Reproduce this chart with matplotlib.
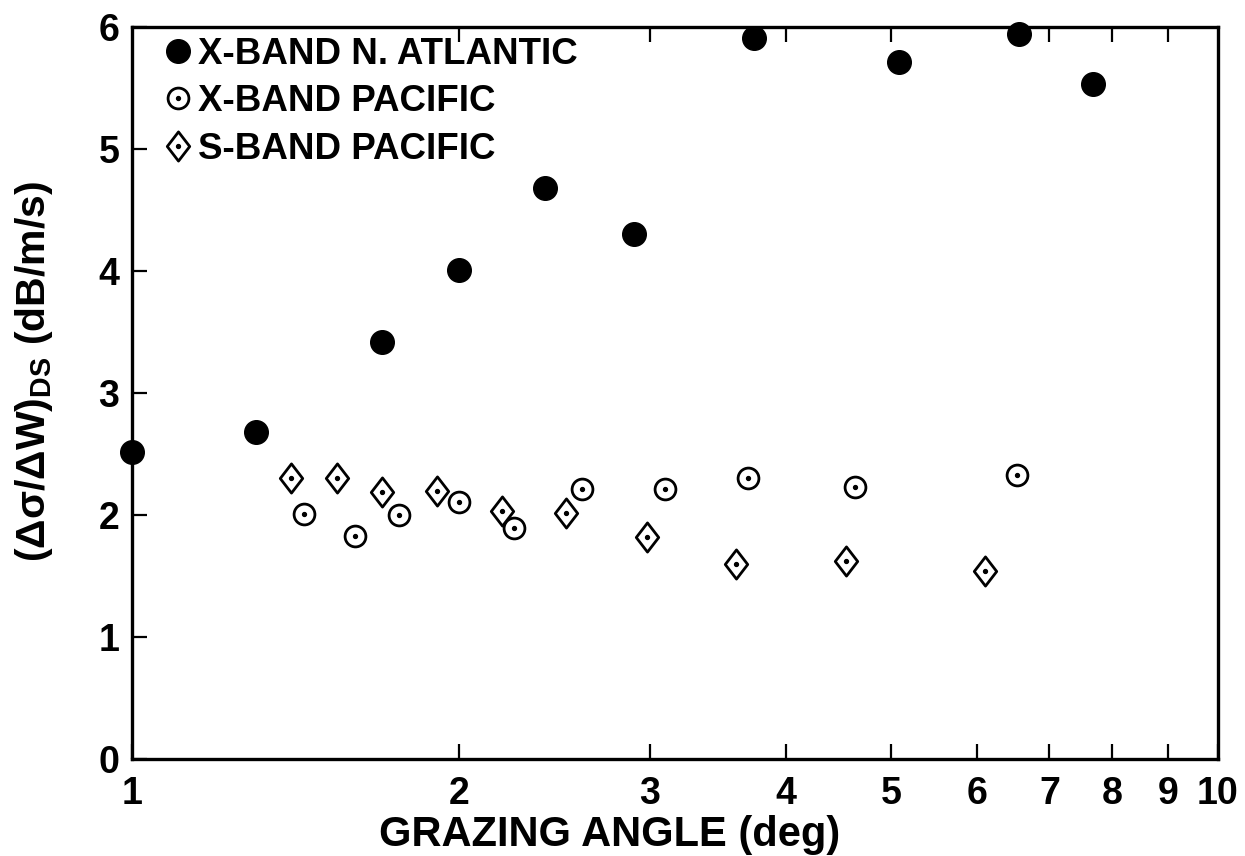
import numpy as np
import matplotlib
matplotlib.use("Agg")
import matplotlib.pyplot as plt
from matplotlib.path import Path
from matplotlib.ticker import FixedLocator, NullFormatter, NullLocator
from matplotlib.legend_handler import HandlerTuple

plt.rcParams['font.family'] = ['Liberation Sans', 'DejaVu Sans']
plt.rcParams['font.weight'] = 'bold'
plt.rcParams['axes.labelweight'] = 'bold'
plt.rcParams['mathtext.fontset'] = 'custom'
plt.rcParams['mathtext.rm'] = 'Liberation Sans:bold'
plt.rcParams['mathtext.it'] = 'Liberation Sans:italic:bold'

# X-band, N. Atlantic (filled circles)
xa_angle = [1.00, 1.30, 1.70, 2.00, 2.40, 2.90, 3.74, 5.09, 6.56, 7.67]
xa_val = [2.52, 2.68, 3.42, 4.01, 4.68, 4.30, 5.91, 5.71, 5.94, 5.53]

# X-band, Pacific (dotted open circles)
xp_angle = [1.44, 1.605, 1.76, 2.00, 2.25, 2.60, 3.10, 3.69, 4.63, 6.53]
xp_val = [2.01, 1.83, 2.00, 2.11, 1.89, 2.21, 2.21, 2.30, 2.23, 2.33]

# S-band, Pacific (dotted diamonds)
sp_angle = [1.40, 1.545, 1.70, 1.91, 2.19, 2.51, 2.98, 3.60, 4.55, 6.11]
sp_val = [2.30, 2.30, 2.19, 2.20, 2.03, 2.02, 1.82, 1.60, 1.62, 1.54]

series_labels = ['X-BAND N. ATLANTIC', 'X-BAND PACIFIC', 'S-BAND PACIFIC']
x_ticks = [1, 2, 3, 4, 5, 6, 7, 8, 9, 10]
y_ticks = [0, 1, 2, 3, 4, 5, 6]

# a diamond a bit wider than matplotlib's thin one
diamond = Path([(0, 1), (0.77, 0), (0, -1), (-0.77, 0), (0, 1)],
               [Path.MOVETO, Path.LINETO, Path.LINETO, Path.LINETO, Path.CLOSEPOLY])

fig = plt.figure(figsize=(12.45, 8.56), dpi=100)
ax = fig.add_axes([0.106, 0.1133, 0.872, 0.8552])

filled, = ax.plot(xa_angle, xa_val, ls='none', marker='o', ms=17, color='black',
                  clip_on=False, zorder=4)
ring, = ax.plot(xp_angle, xp_val, ls='none', marker='o', ms=15, mfc='white',
                mec='black', mew=2.0, clip_on=False, zorder=3)
ring_dot, = ax.plot(xp_angle, xp_val, ls='none', marker='o', ms=2.8, color='black', zorder=3.5)
diam, = ax.plot(sp_angle, sp_val, ls='none', marker=diamond, ms=21, mfc='white',
                mec='black', mew=2.0, clip_on=False, zorder=3)
diam_dot, = ax.plot(sp_angle, sp_val, ls='none', marker='o', ms=2.8, color='black', zorder=3.5)

ax.set_xscale('log')
ax.set_xlim(1, 10)
ax.set_ylim(0, 6)

ax.xaxis.set_major_locator(FixedLocator(x_ticks))
ax.xaxis.set_minor_locator(NullLocator())
ax.set_xticklabels([str(t) for t in x_ticks])
ax.set_yticks(y_ticks)

for s in ax.spines.values():
    s.set_linewidth(2.4)

ax.tick_params(axis='both', direction='in', length=11, width=1.6, labelsize=27)
ax.tick_params(axis='x', pad=12)
ax.tick_params(axis='y', pad=9)

# top ticks (no tick drawn at 6 on the original)
top = ax.secondary_xaxis('top')
top.xaxis.set_major_locator(FixedLocator([2, 3, 4, 5, 7, 8, 9]))
top.xaxis.set_minor_locator(NullLocator())
top.xaxis.set_major_formatter(NullFormatter())
top.tick_params(direction='in', length=11, width=1.6)
top.spines['top'].set_visible(False)

ax.set_xlabel('GRAZING ANGLE (deg)', fontsize=30, fontweight='bold')
ax.xaxis.set_label_coords(0.44, -0.104)
ax.xaxis.label.set_va('center')
ax.set_ylabel('(Δσ/ΔW)$_{\\rm DS}$ (dB/m/s)', fontsize=29.5, fontweight='bold')
ax.yaxis.set_label_coords(-0.09, 0.529)
ax.yaxis.label.set_va('center')

ax.legend([filled, (ring, ring_dot), (diam, diam_dot)], series_labels,
          handler_map={tuple: HandlerTuple(ndivide=1)},
          loc='upper left', bbox_to_anchor=(0.030, 0.986), frameon=False,
          fontsize=26.5, borderaxespad=0, borderpad=0, handlelength=0.75,
          handletextpad=0.15, labelspacing=0.33, markerscale=1.0)

fig.savefig('out.png', dpi=100)
